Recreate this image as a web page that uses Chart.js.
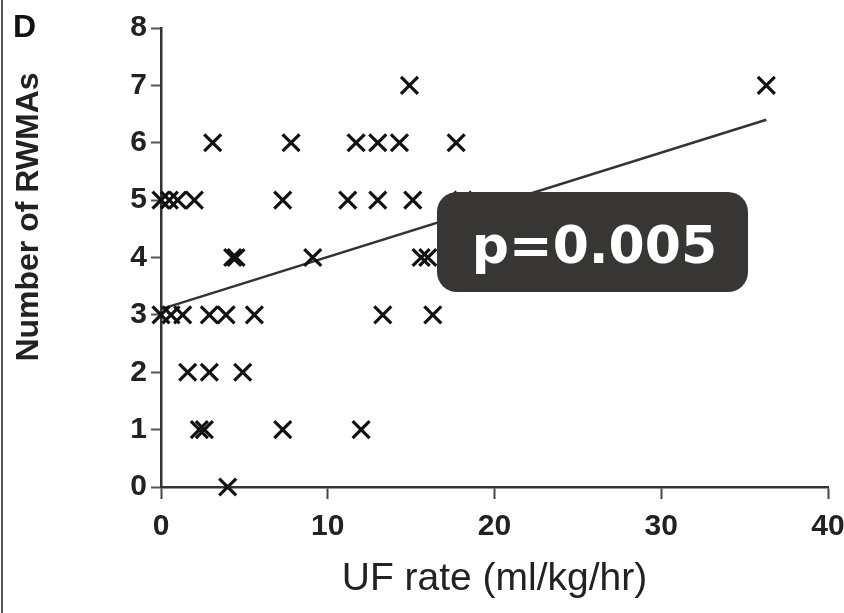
<!DOCTYPE html>
<html>
<head>
<meta charset="utf-8">
<script src="https://cdn.jsdelivr.net/npm/chart.js@4"></script>
<style>
    html, body { margin: 0; padding: 0; background: #fff; }
    #wrap { width: 844px; height: 613px; position: relative; }
</style>
</head>
<body>
<div id="wrap"><canvas id="rwmaChart" width="844" height="613"></canvas></div>
<script>
// UF rate (ml/kg/hr) against number of RWMAs, one entry per patient
const ufRate = [
    14.9, 36.3,
    3.1, 7.8, 11.7, 13.0, 14.3, 17.7,
    0.0, 0.5, 1.0, 2.0, 7.3, 11.2, 13.0, 15.1, 18.1,
    4.3, 4.5, 9.1, 15.6, 16.0,
    0.0, 0.6, 1.3, 2.9, 3.9, 5.6, 13.3, 16.3,
    1.6, 2.9, 4.9,
    2.3, 2.6, 7.3, 12.0,
    4.0
];
const rwmaCount = [
    7, 7,
    6, 6, 6, 6, 6, 6,
    5, 5, 5, 5, 5, 5, 5, 5, 5,
    4, 4, 4, 4, 4,
    3, 3, 3, 3, 3, 3, 3, 3,
    2, 2, 2,
    1, 1, 1, 1,
    0
];

// regression line end points
const fitX = [0, 36.3];
const fitY = [3.1, 6.4];

const xTicks = [0, 10, 20, 30, 40];
const yTicks = [0, 1, 2, 3, 4, 5, 6, 7, 8];
const pValueText = 'p=0.005';

const axisFont = "'Liberation Sans', Arial, sans-serif";

const overlayPlugin = {
    id: 'overlay',
    afterDraw: function (chart) {
        const ctx = chart.ctx;
        ctx.save();

        // left frame line
        ctx.fillStyle = '#555';
        ctx.fillRect(1, 0, 2, 613);

        // panel letter
        ctx.fillStyle = '#111';
        ctx.font = "bold 32px " + axisFont;
        ctx.textAlign = 'left';
        ctx.textBaseline = 'alphabetic';
        ctx.fillText('D', 13, 37);

        // y axis title
        ctx.save();
        ctx.translate(29, 217);
        ctx.rotate(-Math.PI / 2);
        ctx.font = "bold 32px " + axisFont;
        ctx.textAlign = 'center';
        ctx.textBaseline = 'middle';
        ctx.fillStyle = '#222';
        ctx.fillText('Number of RWMAs', 0, 0);
        ctx.restore();

        // p value badge
        const bx = 437, by = 192, bw = 311, bh = 100, r = 20;
        ctx.fillStyle = '#383635';
        ctx.beginPath();
        ctx.roundRect(bx, by, bw, bh, r);
        ctx.fill();
        ctx.fillStyle = '#fff';
        ctx.font = "bold 52px 'DejaVu Sans', sans-serif";
        ctx.textAlign = 'center';
        ctx.textBaseline = 'alphabetic';
        ctx.fillText(pValueText, bx + bw / 2 + 2, by + 71);

        ctx.restore();
    }
};

new Chart(document.getElementById('rwmaChart'), {
    type: 'scatter',
    data: {
        datasets: [
            {
                label: 'Patients',
                data: ufRate.map((x, i) => ({ x: x, y: rwmaCount[i] })),
                pointStyle: 'crossRot',
                pointRadius: 12,
                pointBorderWidth: 3.2,
                borderColor: '#111',
                backgroundColor: '#111',
                clip: false
            },
            {
                type: 'line',
                label: 'Fit',
                data: fitX.map((x, i) => ({ x: x, y: fitY[i] })),
                borderColor: '#333',
                borderWidth: 2.5,
                pointRadius: 0,
                fill: false,
                clip: false
            }
        ]
    },
    options: {
        responsive: false,
        animation: false,
        layout: {
            padding: { left: 0, top: 28, right: 16, bottom: 0 }
        },
        plugins: {
            legend: { display: false },
            tooltip: { enabled: false }
        },
        scales: {
            x: {
                type: 'linear',
                min: 0,
                max: 40,
                afterBuildTicks: function (scale) {
                    scale.ticks = xTicks.map(v => ({ value: v }));
                },
                afterFit: function (scale) {
                    scale.height = 126;
                    scale.paddingLeft = 0;
                    scale.paddingRight = 0;
                },
                grid: {
                    drawOnChartArea: false,
                    drawTicks: true,
                    tickLength: 12,
                    tickWidth: 2,
                    tickColor: '#444'
                },
                border: { display: true, color: '#333', width: 2.5 },
                ticks: {
                    padding: 10,
                    maxRotation: 0,
                    color: '#222',
                    font: { family: axisFont, size: 30, weight: 'bold' }
                },
                title: {
                    display: true,
                    text: 'UF rate (ml/kg/hr)',
                    color: '#222',
                    padding: { bottom: 10 },
                    font: { family: axisFont, size: 39 }
                }
            },
            y: {
                type: 'linear',
                min: 0,
                max: 8,
                afterBuildTicks: function (scale) {
                    scale.ticks = yTicks.map(v => ({ value: v }));
                },
                afterFit: function (scale) {
                    scale.width = 161;
                    scale.paddingTop = 0;
                    scale.paddingBottom = 0;
                },
                grid: {
                    drawOnChartArea: false,
                    drawTicks: true,
                    tickLength: 10,
                    tickWidth: 2,
                    tickColor: '#555'
                },
                border: { display: true, color: '#333', width: 2.5 },
                ticks: {
                    padding: 4,
                    color: '#222',
                    font: { family: axisFont, size: 30, weight: 'bold' }
                }
            }
        }
    },
    plugins: [overlayPlugin]
});
</script>
</body>
</html>
